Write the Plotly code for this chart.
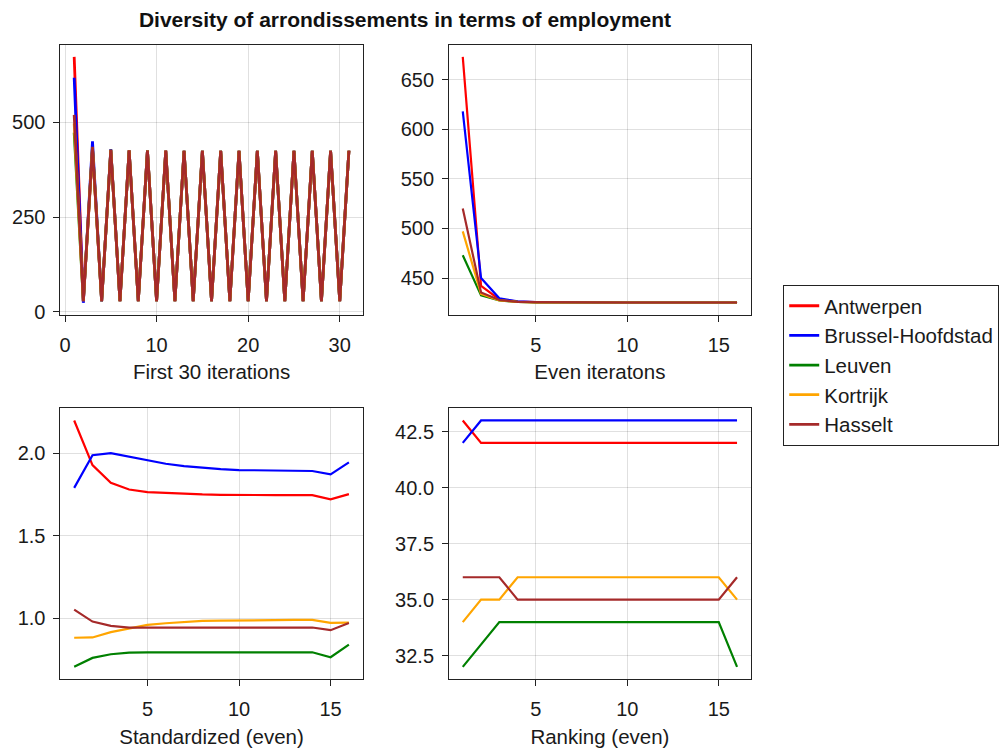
import plotly.graph_objects as go

# ---------------- data ----------------
names = ["Antwerpen", "Brussel-Hoofdstad", "Leuven", "Kortrijk", "Hasselt"]
colors = ["#ff0000", "#0000ff", "#008000", "#ffa500", "#a52a2a"]

iter_x = list(range(1, 32))
even_x = list(range(1, 17))

first30 = {
    "Antwerpen": [673, 27, 428.5, 28, 426.2, 28, 425.6, 28, 425.4, 28, 425.3, 28, 425.3, 28, 425.3, 28,
                  425.3, 28, 425.3, 28, 425.3, 28, 425.3, 28, 425.3, 28, 425.3, 28, 425.3, 28, 425.3],
    "Brussel-Hoofdstad": [618, 24, 450, 27.8, 429.5, 28, 426.5, 28, 425.7, 28, 425.4, 28, 425.3, 28, 425.3, 28,
                          425.3, 28, 425.3, 28, 425.3, 28, 425.3, 28, 425.3, 28, 425.3, 28, 425.3, 28, 425.3],
    "Leuven": [473, 29, 432.5, 28.2, 427.3, 28, 425.9, 28, 425.5, 28, 425.3, 28, 425.3, 28, 425.3, 28,
               425.3, 28, 425.3, 28, 425.3, 28, 425.3, 28, 425.3, 28, 425.3, 28, 425.3, 28, 425.3],
    "Kortrijk": [497, 28.5, 434, 28.1, 427.5, 28, 426, 28, 425.5, 28, 425.4, 28, 425.3, 28, 425.3, 28,
                 425.3, 28, 425.3, 28, 425.3, 28, 425.3, 28, 425.3, 28, 425.3, 28, 425.3, 28, 425.3],
    "Hasselt": [520, 28, 435.5, 28.1, 427.8, 28, 426, 28, 425.6, 28, 425.4, 28, 425.3, 28, 425.3, 28,
                425.3, 28, 425.3, 28, 425.3, 28, 425.3, 28, 425.3, 28, 425.3, 28, 425.3, 28, 425.3],
}

even_iter = {
    "Antwerpen": [673, 442, 428.5, 426.2, 425.6, 425.4, 425.3, 425.3, 425.3, 425.3, 425.3, 425.3, 425.3, 425.3, 425.3, 425.3],
    "Brussel-Hoofdstad": [618, 450, 429.5, 426.5, 425.7, 425.4, 425.3, 425.3, 425.3, 425.3, 425.3, 425.3, 425.3, 425.3, 425.3, 425.3],
    "Leuven": [473, 432.5, 427.3, 425.9, 425.5, 425.3, 425.3, 425.3, 425.3, 425.3, 425.3, 425.3, 425.3, 425.3, 425.3, 425.3],
    "Kortrijk": [497, 434, 427.5, 426, 425.5, 425.4, 425.3, 425.3, 425.3, 425.3, 425.3, 425.3, 425.3, 425.3, 425.3, 425.3],
    "Hasselt": [520, 435.5, 427.8, 426, 425.6, 425.4, 425.3, 425.3, 425.3, 425.3, 425.3, 425.3, 425.3, 425.3, 425.3, 425.3],
}

standardized = {
    "Antwerpen": [2.198, 1.928, 1.82, 1.78, 1.764, 1.758, 1.754, 1.75, 1.748, 1.746, 1.746, 1.746, 1.746, 1.746, 1.72, 1.752],
    "Brussel-Hoofdstad": [1.79, 1.988, 2.0, 1.978, 1.954, 1.936, 1.922, 1.912, 1.904, 1.898, 1.896, 1.894, 1.892, 1.892, 1.872, 1.944],
    "Leuven": [0.706, 0.76, 0.782, 0.792, 0.794, 0.794, 0.794, 0.794, 0.794, 0.794, 0.794, 0.794, 0.794, 0.794, 0.764, 0.84],
    "Kortrijk": [0.882, 0.884, 0.916, 0.94, 0.96, 0.97, 0.978, 0.984, 0.986, 0.988, 0.99, 0.99, 0.99, 0.99, 0.972, 0.974],
    "Hasselt": [1.052, 0.98, 0.954, 0.944, 0.944, 0.944, 0.944, 0.944, 0.944, 0.944, 0.944, 0.944, 0.944, 0.944, 0.928, 0.972],
}

ranking = {
    "Antwerpen": [43, 42, 42, 42, 42, 42, 42, 42, 42, 42, 42, 42, 42, 42, 42, 42],
    "Brussel-Hoofdstad": [42, 43, 43, 43, 43, 43, 43, 43, 43, 43, 43, 43, 43, 43, 43, 43],
    "Leuven": [32, 33, 34, 34, 34, 34, 34, 34, 34, 34, 34, 34, 34, 34, 34, 32],
    "Kortrijk": [34, 35, 35, 36, 36, 36, 36, 36, 36, 36, 36, 36, 36, 36, 36, 35],
    "Hasselt": [36, 36, 36, 35, 35, 35, 35, 35, 35, 35, 35, 35, 35, 35, 35, 36],
}

title = "Diversity of arrondissements in terms of employment"
xlabels = ["First 30 iterations", "Even iteratons", "Standardized (even)", "Ranking (even)"]

# ---------------- figure ----------------
W, H = 1004, 753
FONT = "Liberation Sans, Arial, Helvetica, sans-serif"

fig = go.Figure()

panels = [
    (iter_x, first30, "x", "y", 2.8),
    (even_x, even_iter, "x2", "y2", 2.2),
    (even_x, standardized, "x3", "y3", 2.2),
    (even_x, ranking, "x4", "y4", 2.2),
]

for pi, (xs, data, xa, ya, lw) in enumerate(panels):
    for name, col in zip(names, colors):
        fig.add_trace(go.Scatter(
            x=xs, y=data[name], mode="lines", name=name,
            line=dict(color=col, width=lw),
            xaxis=xa, yaxis=ya,
            showlegend=(pi == 0), legendgroup=name,
        ))

def px_x(a, b):
    return [a / W, b / W]

def px_y(top, bottom):
    return [1 - bottom / H, 1 - top / H]

xdom_l = px_x(59.5, 362)
xdom_r = px_x(448.5, 750.5)
ydom_t = px_y(45, 318.5)
ydom_b = px_y(412.5, 686.5)

axis_common = dict(
    showline=True, linecolor="#222222", linewidth=1, mirror=True,
    showgrid=True, gridcolor="rgba(0,0,0,0.12)", gridwidth=1,
    zeroline=False, ticks="outside", ticklen=6, tickcolor="#222222",
    tickfont=dict(size=20, color="#1a1a1a", family=FONT),
    title_font=dict(size=20.5, color="#1a1a1a", family=FONT),
)
xcommon = dict(axis_common, ticklabelstandoff=6)
ycommon = dict(axis_common, ticklabelstandoff=4)

fig.update_layout(
    width=W, height=H,
    margin=dict(l=0, r=0, t=0, b=0),
    paper_bgcolor="white", plot_bgcolor="white",
    font=dict(family=FONT, color="#1a1a1a"),
    title=dict(text="<b>" + title + "</b>", x=405 / W, xanchor="center",
               y=1 - 20 / H, yanchor="middle", font=dict(size=21, family=FONT, color="#111111")),
    xaxis=dict(domain=xdom_l, anchor="y", range=[-0.5, 32.5], tickvals=[0, 10, 20, 30],
               title=dict(text=xlabels[0], standoff=9), **xcommon),
    yaxis=dict(domain=ydom_t, anchor="x", range=[-8.5, 705.5], tickvals=[0, 250, 500], **ycommon),
    xaxis2=dict(domain=xdom_r, anchor="y2", range=[0.25, 16.75], tickvals=[5, 10, 15],
                title=dict(text=xlabels[1], standoff=9), **xcommon),
    yaxis2=dict(domain=ydom_t, anchor="x2", range=[412.6, 685.4], tickvals=[450, 500, 550, 600, 650], **ycommon),
    xaxis3=dict(domain=xdom_l, anchor="y3", range=[0.25, 16.75], tickvals=[5, 10, 15],
                title=dict(text=xlabels[2], standoff=10), **xcommon),
    yaxis3=dict(domain=ydom_b, anchor="x3", range=[0.631, 2.273], tickvals=[1.0, 1.5, 2.0],
                tickformat=".1f", **ycommon),
    xaxis4=dict(domain=xdom_r, anchor="y4", range=[0.25, 16.75], tickvals=[5, 10, 15],
                title=dict(text=xlabels[3], standoff=10), **xcommon),
    yaxis4=dict(domain=ydom_b, anchor="x4", range=[31.45, 43.55], tickvals=[32.5, 35.0, 37.5, 40.0, 42.5],
                tickformat=".1f", **ycommon),
    legend=dict(x=783 / W, xanchor="left", y=1 - 288 / H, yanchor="top",
                bordercolor="#222222", borderwidth=1, bgcolor="white",
                font=dict(size=20.5, family=FONT, color="#1a1a1a"),
                tracegroupgap=0, itemwidth=30),
)

fig.write_html("out.html")
